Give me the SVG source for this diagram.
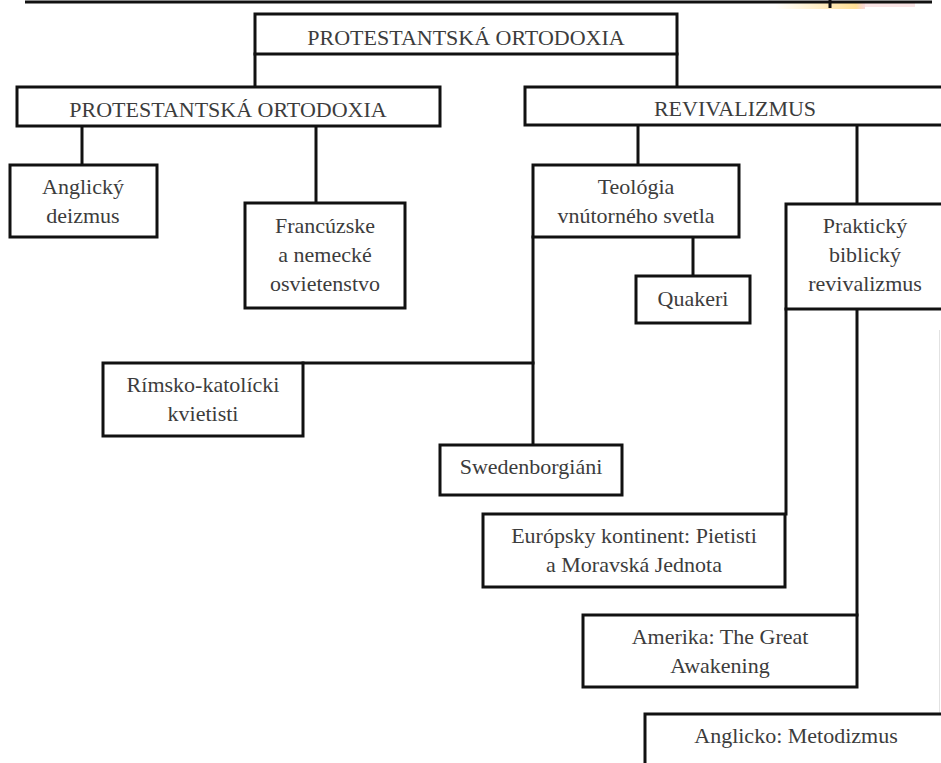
<svg xmlns="http://www.w3.org/2000/svg" width="941" height="763" viewBox="0 0 941 763">
<style>
  .box { fill: #ffffff; stroke: #111111; stroke-width: 3; }
  .conn { stroke: #111111; stroke-width: 3; fill: none; stroke-linecap: square; }
  .t { font-family: "Liberation Serif", "Times New Roman", serif; font-size: 22px; fill: #3c3c3c; text-anchor: middle; }
</style>
<defs>
  <linearGradient id="smudge" x1="0" y1="0" x2="1" y2="0">
    <stop offset="0" stop-color="#ffd77a" stop-opacity="0"/>
    <stop offset="0.9" stop-color="#ffd77a" stop-opacity="0.8"/>
    <stop offset="1" stop-color="#f3b3b8" stop-opacity="0.5"/>
  </linearGradient>
</defs>
<rect width="941" height="763" fill="#ffffff"/>
<g id="page">
  <rect x="775" y="3" width="90" height="6" fill="url(#smudge)"/>
  <rect x="865" y="3" width="50" height="4" fill="#f6c9cc" opacity="0.5"/>
  <line x1="25" y1="2" x2="932" y2="2" stroke="#111" stroke-width="3"/>
  <line x1="830" y1="0" x2="830" y2="8" stroke="#111" stroke-width="3"/>
  <line x1="939.5" y1="330" x2="939.5" y2="763" stroke="#e2e2e2" stroke-width="1"/>
</g>
<g id="connectors">
  <line class="conn" x1="255" y1="54" x2="255" y2="87"/>
  <line class="conn" x1="677" y1="54" x2="677" y2="87"/>
  <line class="conn" x1="82" y1="126" x2="82" y2="165"/>
  <line class="conn" x1="316" y1="126" x2="316" y2="203"/>
  <line class="conn" x1="638" y1="125" x2="638" y2="165"/>
  <line class="conn" x1="857" y1="125" x2="857" y2="204"/>
  <line class="conn" x1="693" y1="237" x2="693" y2="276"/>
  <line class="conn" x1="533" y1="237" x2="533" y2="445"/>
  <line class="conn" x1="303" y1="363" x2="533" y2="363"/>
  <line class="conn" x1="786" y1="309" x2="786" y2="514"/>
  <line class="conn" x1="857" y1="309" x2="857" y2="615"/>
</g>
<g id="n-top">
  <rect class="box" x="255" y="14" width="422" height="40"/>
  <text class="t" x="466" y="45">PROTESTANTSKÁ ORTODOXIA</text>
</g>
<g id="n-prot">
  <rect class="box" x="17" y="87" width="423" height="39"/>
  <text class="t" x="228" y="117">PROTESTANTSKÁ ORTODOXIA</text>
</g>
<g id="n-rev">
  <rect class="box" x="525" y="87" width="430" height="38"/>
  <text class="t" x="735" y="116">REVIVALIZMUS</text>
</g>
<g id="n-anglicky">
  <rect class="box" x="10" y="165" width="147" height="72"/>
  <text class="t" x="83" y="194">Anglický</text>
  <text class="t" x="83" y="223">deizmus</text>
</g>
<g id="n-francuzske">
  <rect class="box" x="245" y="203" width="160" height="105"/>
  <text class="t" x="325" y="233">Francúzske</text>
  <text class="t" x="325" y="262">a nemecké</text>
  <text class="t" x="325" y="291">osvietenstvo</text>
</g>
<g id="n-teologia">
  <rect class="box" x="533" y="165" width="206" height="72"/>
  <text class="t" x="636" y="194">Teológia</text>
  <text class="t" x="636" y="223">vnútorného svetla</text>
</g>
<g id="n-prakticky">
  <rect class="box" x="786" y="204" width="160" height="105"/>
  <text class="t" x="865" y="233">Praktický</text>
  <text class="t" x="865" y="262">biblický</text>
  <text class="t" x="865" y="291">revivalizmus</text>
</g>
<g id="n-quakeri">
  <rect class="box" x="636" y="276" width="114" height="47"/>
  <text class="t" x="693" y="306">Quakeri</text>
</g>
<g id="n-rimsko">
  <rect class="box" x="103" y="363" width="200" height="73"/>
  <text class="t" x="203" y="392">Rímsko-katolícki</text>
  <text class="t" x="203" y="421">kvietisti</text>
</g>
<g id="n-swedenborgiani">
  <rect class="box" x="440" y="445" width="182" height="50"/>
  <text class="t" x="531" y="474">Swedenborgiáni</text>
</g>
<g id="n-europsky">
  <rect class="box" x="483" y="514" width="302" height="73"/>
  <text class="t" x="634" y="543">Európsky kontinent: Pietisti</text>
  <text class="t" x="634" y="572">a Moravská Jednota</text>
</g>
<g id="n-amerika">
  <rect class="box" x="583" y="615" width="274" height="72"/>
  <text class="t" x="720" y="644">Amerika: The Great</text>
  <text class="t" x="720" y="673">Awakening</text>
</g>
<g id="n-anglicko">
  <rect class="box" x="645" y="714" width="302" height="60"/>
  <text class="t" x="796" y="743">Anglicko: Metodizmus</text>
</g>
</svg>
